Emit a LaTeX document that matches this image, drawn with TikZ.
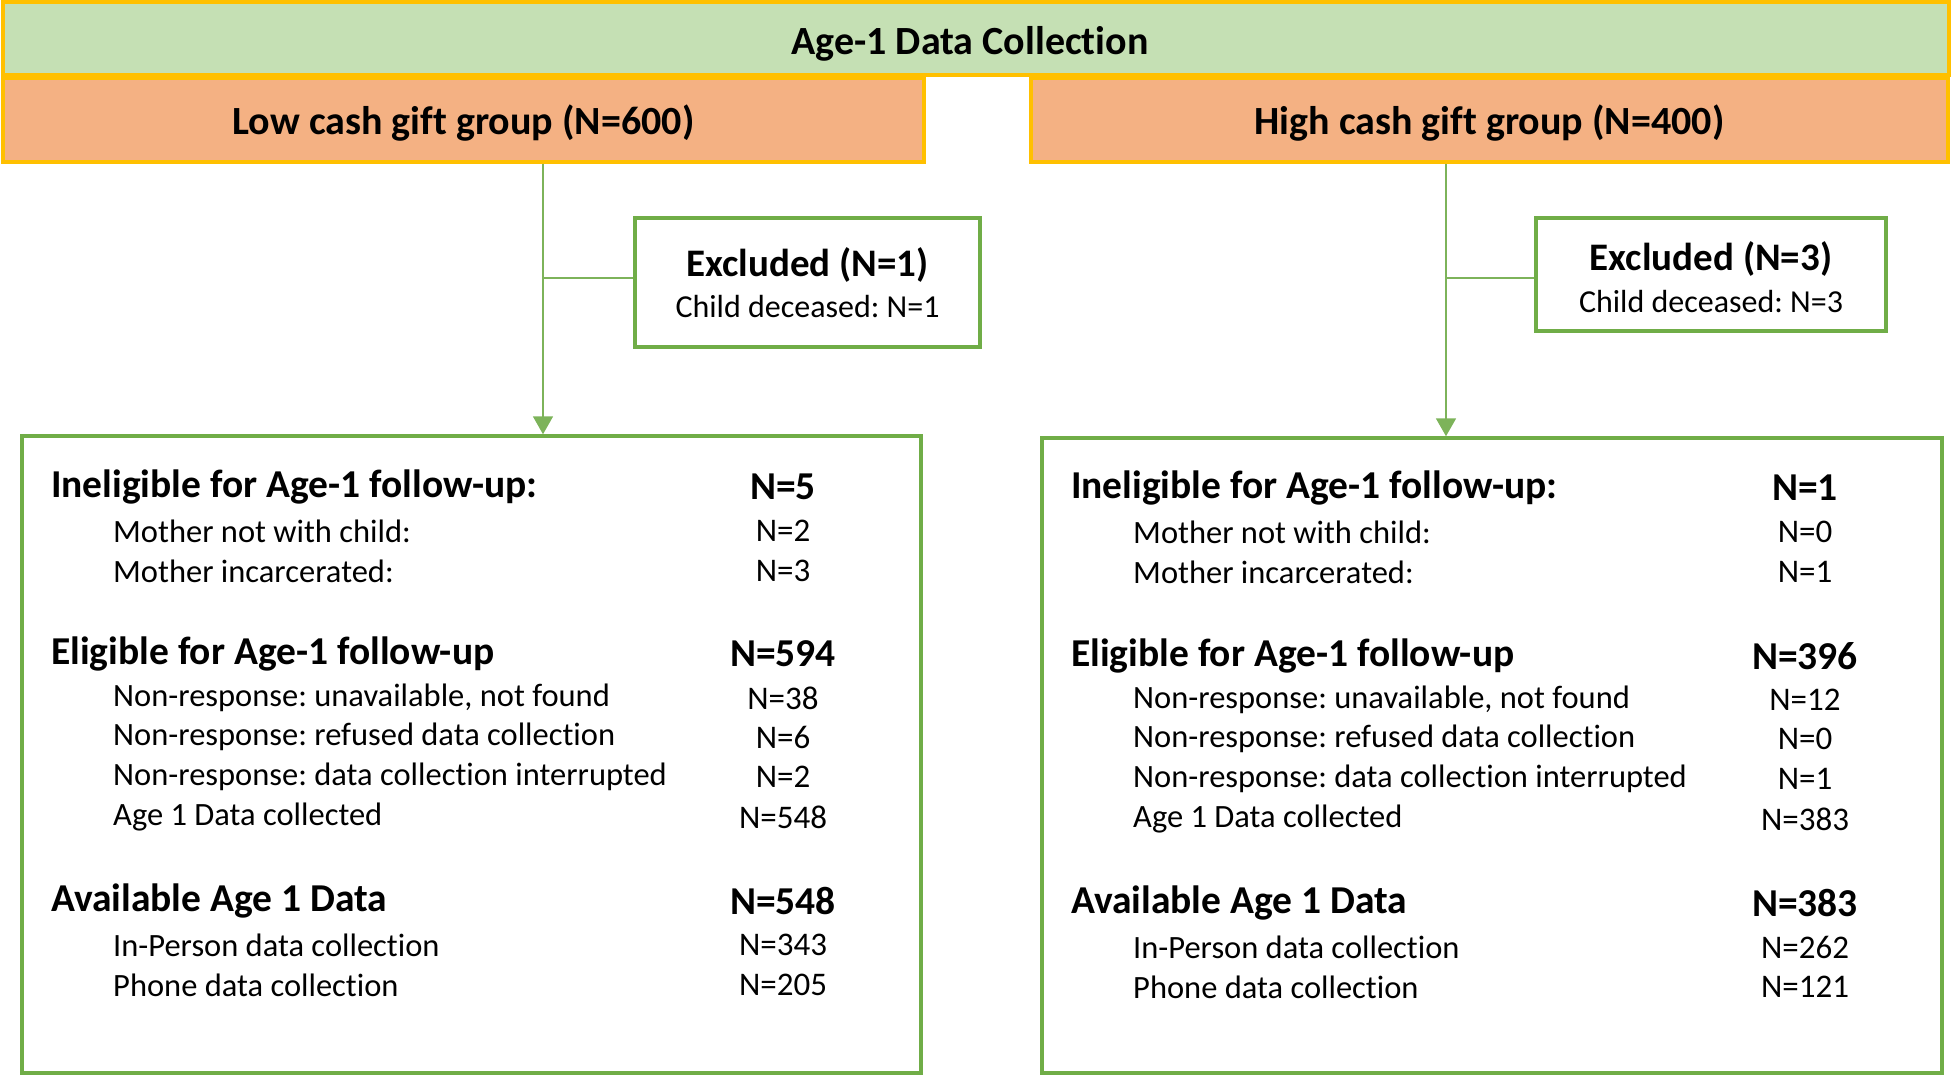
\documentclass[tikz,border=0pt]{standalone}
\usepackage{fontspec}
\setmainfont{Carlito}[Ligatures=NoCommon]
\usetikzlibrary{arrows.meta}
\frenchspacing
\definecolor{gborder}{HTML}{70AD47}
\definecolor{gline}{HTML}{7DB35A}
\definecolor{gfill}{HTML}{C5E0B4}
\definecolor{ofill}{HTML}{F4B183}
\definecolor{gold}{HTML}{FFC000}
\tikzset{
  banner/.style={draw=gold, line width=3.5pt, fill=gfill, inner sep=0pt},
  grouphdr/.style={draw=gold, line width=3.5pt, fill=ofill, inner sep=0pt},
  greenbox/.style={draw=gborder, line width=3.5pt, fill=white, inner sep=0pt},
  conn/.style={draw=gline, line width=1.8pt},
  arr/.style={conn, -{Triangle[width=20pt,length=18pt]}},
  hdrtxt/.style={font=\fontsize{40}{46}\selectfont\bfseries, inner sep=0pt},
  headtxt/.style={font=\fontsize{39.5}{46}\selectfont\bfseries, anchor=west, inner sep=0pt},
  subtxt/.style={font=\fontsize{32.5}{38}\selectfont, anchor=west, inner sep=0pt},
  numtxt/.style={font=\fontsize{33}{38}\selectfont, inner sep=0pt},
  numbold/.style={font=\fontsize{39.5}{46}\selectfont\bfseries, inner sep=0pt},
  extitle/.style={font=\fontsize{39}{44}\selectfont\bfseries, inner sep=0pt},
  exsub/.style={font=\fontsize{32}{38}\selectfont, inner sep=0pt},
}
\begin{document}
\begin{tikzpicture}[x=1pt,y=-1pt]
\useasboundingbox (0,0) rectangle (1952,1077);
% big result boxes
\node[greenbox, minimum width=899pt, minimum height=637pt] (bigL) at (471.5,754.5) {};
\node[greenbox, minimum width=900pt, minimum height=635pt] (bigR) at (1492,755.5) {};
% excluded boxes
\node[greenbox, minimum width=345pt, minimum height=129pt] (exL) at (807.5,282.5) {};
\node[greenbox, minimum width=350pt, minimum height=113pt] (exR) at (1711,274.5) {};
\node[extitle] (exLt) at (807.5,265) {Excluded (N=1)};
\node[exsub] (exLs) at (807.5,307) {Child deceased: N=1};
\node[extitle] (exRt) at (1711,259) {Excluded (N=3)};
\node[exsub] (exRs) at (1711,302) {Child deceased: N=3};
% header banners
\node[grouphdr, minimum width=921pt, minimum height=84pt] (lowG) at (463.5,120) {};
\node[grouphdr, minimum width=917pt, minimum height=84pt] (highG) at (1489.5,120) {};
\node[banner, minimum width=1946pt, minimum height=73pt] (top) at (976,38.5) {};
\node[hdrtxt] (topt) at (970,44) {Age-1 Data Collection};
\node[hdrtxt] (lowt) at (463.5,123) {Low cash gift group (N=600)};
\node[hdrtxt] (hight) at (1489.5,123) {High cash gift group (N=400)};
% connectors
\coordinate (vL) at (543,0);
\coordinate (vR) at (1446,0);
\coordinate (hL) at (0,278);
\coordinate (hR) at (0,278);
\draw[arr] (vL |- lowG.south) -- (vL |- bigL.north);
\draw[conn] (exL.west |- hL) -- (vL |- hL);
\draw[arr] (vR |- highG.south) -- (vR |- bigR.north);
\draw[conn] (exR.west |- hR) -- (vR |- hR);
% left box text
\node[headtxt] (l1) at (51,487) {Ineligible for Age-1 follow-up:};
\node[subtxt] (l2) at (113,531) {Mother not with child:};
\node[subtxt] (l3) at (113,571) {Mother incarcerated:};
\node[headtxt] (l4) at (51,654) {Eligible for Age-1 follow-up};
\node[subtxt] (l5) at (113,698) {Non-response: unavailable, not found};
\node[subtxt] (l6) at (113,737) {Non-response: refused data collection};
\node[subtxt] (l7) at (113,777) {Non-response: data collection interrupted};
\node[subtxt] (l8) at (113,817) {Age 1 Data collected};
\node[headtxt] (l9) at (51,901) {Available Age 1 Data};
\node[subtxt] (l10) at (113,945) {In-Person data collection};
\node[subtxt] (l11) at (113,985) {Phone data collection};
\node[numbold] (n1) at (783,487) {N=5};
\node[numtxt] (n2) at (783,531) {N=2};
\node[numtxt] (n3) at (783,571) {N=3};
\node[numbold] (n4) at (783,654) {N=594};
\node[numtxt] (n5) at (783,698) {N=38};
\node[numtxt] (n6) at (783,737) {N=6};
\node[numtxt] (n7) at (783,777) {N=2};
\node[numtxt] (n8) at (783,817) {N=548};
\node[numbold] (n9) at (783,901) {N=548};
\node[numtxt] (n10) at (783,945) {N=343};
\node[numtxt] (n11) at (783,985) {N=205};
% right box text
\node[headtxt] (r1) at (1071,488) {Ineligible for Age-1 follow-up:};
\node[subtxt] (r2) at (1133,532) {Mother not with child:};
\node[subtxt] (r3) at (1133,572) {Mother incarcerated:};
\node[headtxt] (r4) at (1071,656) {Eligible for Age-1 follow-up};
\node[subtxt] (r5) at (1133,700) {Non-response: unavailable, not found};
\node[subtxt] (r6) at (1133,739) {Non-response: refused data collection};
\node[subtxt] (r7) at (1133,779) {Non-response: data collection interrupted};
\node[subtxt] (r8) at (1133,819) {Age 1 Data collected};
\node[headtxt] (r9) at (1071,903) {Available Age 1 Data};
\node[subtxt] (r10) at (1133,947) {In-Person data collection};
\node[subtxt] (r11) at (1133,987) {Phone data collection};
\node[numbold] (m1) at (1805,488) {N=1};
\node[numtxt] (m2) at (1805,532) {N=0};
\node[numtxt] (m3) at (1805,572) {N=1};
\node[numbold] (m4) at (1805,656) {N=396};
\node[numtxt] (m5) at (1805,700) {N=12};
\node[numtxt] (m6) at (1805,739) {N=0};
\node[numtxt] (m7) at (1805,779) {N=1};
\node[numtxt] (m8) at (1805,819) {N=383};
\node[numbold] (m9) at (1805,903) {N=383};
\node[numtxt] (m10) at (1805,947) {N=262};
\node[numtxt] (m11) at (1805,987) {N=121};
\end{tikzpicture}
\end{document}
